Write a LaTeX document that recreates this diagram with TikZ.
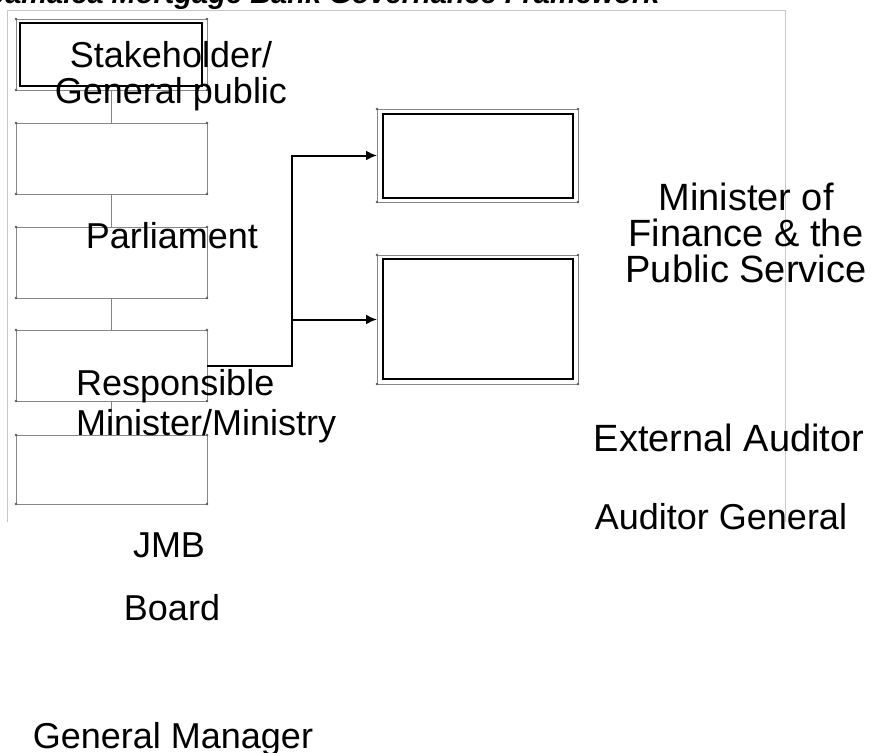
\documentclass[tikz,border=0pt]{standalone}
\usepackage{fontspec}
\setmainfont{Liberation Sans}
\usetikzlibrary{arrows.meta,calc}
\definecolor{boxgray}{RGB}{135,135,135}
\definecolor{framegray}{RGB}{200,200,200}
\definecolor{linkblue}{RGB}{90,140,205}
\definecolor{dotgray}{RGB}{90,90,90}
\begin{document}
\begin{tikzpicture}[x=1pt,y=-1pt,
  panel/.style={draw=boxgray,line width=0.9pt,inner sep=0pt,outer sep=0pt,
    minimum width=191pt,minimum height=71pt},
  bigpanel/.style={draw=boxgray,line width=0.9pt,inner sep=0pt,outer sep=0pt,
    minimum width=201pt},
  innerframe/.style={draw=black,line width=2.2pt,inner sep=0pt,outer sep=0pt},
  link/.style={draw=linkblue,line width=0.9pt},
  conn/.style={draw=black,line width=2pt,-{Latex[length=11pt,width=10pt]}},
  lbl/.style={inner sep=0pt,anchor=base,font=\fontsize{36}{36}\selectfont},
  rlbl/.style={inner sep=0pt,anchor=base,font=\fontsize{38}{36}\selectfont},
  cornerdot/.style={fill=dotgray,draw=none}
]
\useasboundingbox (0,0) rectangle (871,753);
\clip (0,0) rectangle (871,753);

% heading, partly cut off at the top edge
\node[inner sep=0pt,anchor=base west,font=\bfseries\itshape\fontsize{29}{30}\selectfont]
  (title) at (-11,3.5) {Jamaica Mortgage Bank Governance Framework};

% open frame around the chart
\draw[framegray,line width=0.9pt] (7,522) -- (7,10) -- (785,10) -- (785,522);

% left column of boxes
\node[panel] (b1) at (111.5,54.5) {};
\node[innerframe,minimum width=182pt,minimum height=63pt] (b1in) at (111,54.5) {};
\node[panel] (b2) at (111.5,158.5) {};
\node[panel] (b3) at (111.5,262.5) {};
\node[panel] (b4) at (111.5,365.5) {};
\node[panel,minimum height=69pt] (b5) at (111.5,469.5) {};

% right-hand boxes
\node[bigpanel,minimum height=93pt] (ra) at (477.5,155.5) {};
\node[innerframe,minimum width=190pt,minimum height=84pt] (rain) at (478,156) {};
\node[bigpanel,minimum height=129pt] (rb) at (477.5,319.5) {};
\node[innerframe,minimum width=190pt,minimum height=120pt] (rbin) at (478,319) {};

% small marks at the box corners
\foreach \n in {b1,b2,b3,b4,b5,ra,rb}
  \foreach \c in {north west,north east,south west,south east}
    \fill[cornerdot] (\n.\c) circle (1.3pt);

% vertical links in the left column
\draw[link] (b1) -- (b2);
\draw[link] (b2) -- (b3);
\draw[link] (b3) -- (b4);
\draw[link] (b4) -- (b5);

% reporting lines to the right-hand boxes
\coordinate (split) at (292,365.5);
\draw[conn] (b4.east) -- (split) |- (ra.west);
\draw[conn] (split |- rb.west) -- (rb.west);

% labels (the base anchor of a multi-line label sits on its last line)
\node[lbl,align=center] (tstake) at (171,103) {Stakeholder/\\General public};
\node[lbl] (tparl) at (172,248) {Parliament};
\node[lbl,anchor=base west,align=left,font=\fontsize{36}{40}\selectfont]
  (tresp) at (76,435) {Responsible\\Minister/Ministry};
\node[rlbl,align=center] (tmin) at (746,282) {Minister of\\Finance \& the\\Public Service};
\node[rlbl] (text) at (729,451) {External Auditor};
\node[lbl] (tag) at (721,529) {Auditor General};
\node[lbl] (tjmb) at (169,557) {JMB};
\node[lbl] (tboard) at (172,620) {Board};
\node[lbl] (tgm) at (173,748) {General Manager};
\end{tikzpicture}
\end{document}
